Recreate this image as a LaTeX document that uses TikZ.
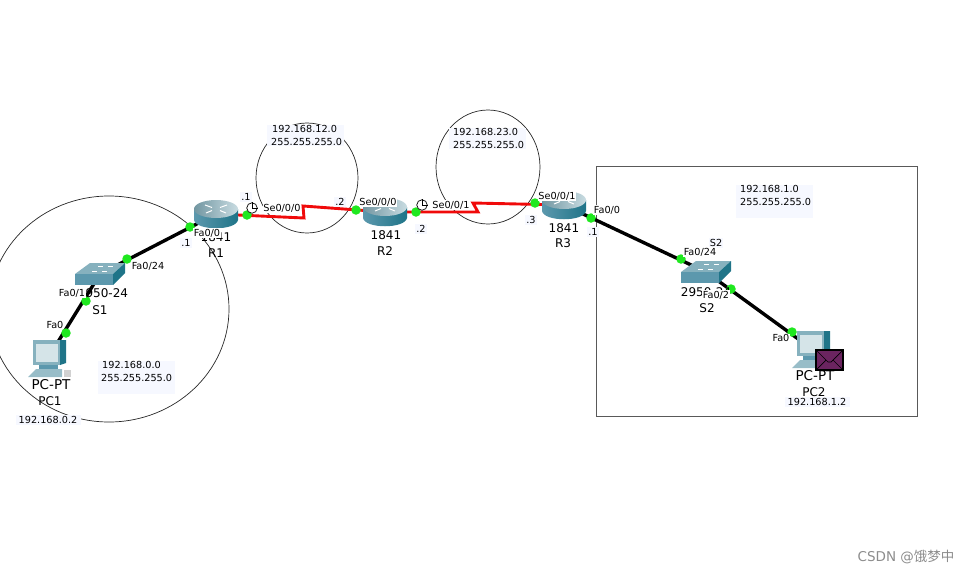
\documentclass[tikz,border=0pt]{standalone}
\usepackage{fontspec}
\setmainfont{DejaVu Sans}
\newfontfamily\cjkfont{Noto Sans CJK SC}
\usepackage{xcolor}
\usetikzlibrary{shapes.geometric}
\definecolor{infobg}{HTML}{F6F8FF}
\definecolor{portgreen}{HTML}{1FE81F}
\definecolor{linkred}{HTML}{F00A0A}
\definecolor{tealtop}{HTML}{86B1BE}
\definecolor{tealfront}{HTML}{5C98AD}
\definecolor{tealside}{HTML}{1F7488}
\definecolor{mailpurple}{HTML}{6B2460}
\begin{document}
\begin{tikzpicture}[
  x=1pt, y=-1pt,
  port/.style={circle, fill=portgreen, inner sep=0pt, minimum size=9.5pt},
  ethlink/.style={line width=3.4pt, black},
  serlink/.style={line width=2.9pt, linkred},
  netcirc/.style={ellipse, draw=black!85, line width=0.7pt, inner sep=0pt},
  lanbox/.style={rectangle, draw=black!65, line width=1pt, inner sep=0pt},
  info/.style={fill=infobg, inner sep=0pt, anchor=north west, text width=#1, align=left,
    font=\fontsize{9.7}{13}\selectfont},
  ifname/.style={fill=white, inner sep=0.6pt, font=\fontsize{9.7}{11}\selectfont},
  addr/.style={fill=infobg, inner sep=1pt, font=\fontsize{9.7}{11}\selectfont},
  devname/.style={font=\fontsize{12}{14}\selectfont},
  pctype/.style={font=\fontsize{13.5}{14}\selectfont},
  clockface/.style={circle, draw=black, fill=white, line width=0.7pt, inner sep=0pt, minimum size=10.5pt},
  routericon/.pic={
    \shade[left color=tealfront, middle color=white!85!tealtop, right color=tealside]
      (-22,-5) -- (-22,6) .. controls (-20,17) and (20,17) .. (22,6) -- (22,-5) -- cycle;
    \shade[left color=tealtop!85!black, right color=tealtop!45!white] (0,-5) ellipse (22 and 9);
    \draw[white, line width=1pt] (-11,-9) -- (-4,-6.5) (11,-9) -- (4,-6.5) (-10,-1) -- (-4,-3.5) (10,-1) -- (4,-3.5);
  },
  switchicon/.pic={
    \fill[tealtop] (-25,0) -- (-10,-11) -- (25,-11) -- (13,0) -- cycle;
    \fill[tealfront] (-25,0) rectangle (13,11);
    \fill[tealside] (13,0) -- (25,-11) -- (25,-1) -- (13,11) -- cycle;
    \draw[white, line width=0.8pt] (-8,-3) -- (-3,-3) (2,-3) -- (7,-3) (-2,-8) -- (3,-8) (8,-8) -- (13,-8);
  },
  pcicon/.pic={
    \fill[tealside] (12,-18) -- (18,-18) -- (18,5) -- (12,7) -- cycle;
    \fill[tealtop] (-15,-18) rectangle (12,7);
    \fill[tealtop!35!white] (-12,-14) rectangle (10,4);
    \fill[tealfront] (-9,7) rectangle (10,11);
    \fill[tealtop!85!white] (-12,11) -- (14,11) -- (14,19) -- (-20,19) -- cycle;
    \fill[black!18] (16,12) rectangle (23,19);
  },
  mailicon/.pic={
    \draw[fill=mailpurple, line width=1.4pt] (0,0) rectangle (27,20);
    \draw[black, line width=0.7pt] (0,0) -- (12,12) -- (15,12) -- (27,0) (0,20) -- (10,10) (27,20) -- (17,10);
  }
]
\clip (0,0) rectangle (970,573);

% --- Device centres ---
\coordinate (r1) at (216,214);
\coordinate (r2) at (385,212);
\coordinate (r3) at (564,205);
\coordinate (s1) at (100,274);
\coordinate (s2) at (706,272);
\coordinate (pc1) at (48,358);
\coordinate (pc2) at (812,349);

% --- Networks ---
\node[netcirc, minimum width=240pt, minimum height=226pt] (net0) at (109,309) {};
\node[netcirc, minimum width=102pt, minimum height=110pt] (net12) at (307,178) {};
\node[netcirc, minimum width=104pt, minimum height=114pt] (net23) at (488,167) {};
\node[lanbox, minimum width=321pt, minimum height=250pt] (net1) at (756.5,291) {};

% --- Links ---
\coordinate (za) at (304,218);
\coordinate (zb) at (303,206);
\coordinate (zc) at (478,212);
\coordinate (zd) at (473,203);
\draw[ethlink] (r1) -- (s1);
\draw[ethlink] (s1) -- (pc1);
\draw[ethlink] (r3) -- (s2);
\draw[ethlink] (s2) -- (pc2);
\draw[serlink] (r1) -- (za) -- (zb) -- (r2);
\draw[serlink] (r2) -- (zc) -- (zd) -- (r3);

% --- Devices ---
\pic at (r1) {routericon};
\pic at (r2) {routericon};
\pic at (r3) {routericon};
\pic at (s1) {switchicon};
\pic at (s2) {switchicon};
\pic at (pc1) {pcicon};
\pic at (pc2) {pcicon};

% --- Ports ---
\node[port] (r1w) at (190,227) {};
\node[port] (r1e) at (247,215) {};
\node[port] (r2w) at (356,210) {};
\node[port] (r2e) at (416,212) {};
\node[port] (r3w) at (535,203) {};
\node[port] (r3e) at (591,218) {};
\node[port] (s1n) at (127,259) {};
\node[port] (s1s) at (86,301) {};
\node[port] (pc1p) at (66,333) {};
\node[port] (s2w) at (681,259) {};
\node[port] (s2e) at (731,289) {};
\node[port] (pc2p) at (792,332) {};

% --- Device names ---
\node[devname] (t1841a) at (216,237) {1841};
\node[devname] (nr1) at (216,253) {R1};
\node[devname] (t1841b) at (386,235) {1841};
\node[devname] (nr2) at (385,251) {R2};
\node[devname] (t1841c) at (564,228) {1841};
\node[devname] (nr3) at (563,243) {R3};
\node[devname] (t2950a) at (103,293) {2950-24};
\node[devname] (ns1) at (100,310) {S1};
\node[devname] (t2950b) at (706,292) {2950-24};
\node[devname] (ns2) at (707,308) {S2};
\node[pctype] (tpca) at (51,385) {PC-PT};
\node[devname] (npc1) at (50,401) {PC1};
\node[pctype] (tpcb) at (815,376) {PC-PT};
\node[devname] (npc2) at (814,392) {PC2};
\node[addr] (s2tag) at (716,243) {S2};

% --- Interface labels ---
\node[ifname] (lr1w) at (207,233) {Fa0/0};
\node[ifname] (lr1e) at (282,208) {Se0/0/0};
\node[ifname] (lr2w) at (378,202) {Se0/0/0};
\node[ifname] (lr2e) at (451,205) {Se0/0/1};
\node[ifname] (lr3w) at (557,196) {Se0/0/1};
\node[ifname] (lr3e) at (607,210) {Fa0/0};
\node[ifname] (ls1n) at (148,266) {Fa0/24};
\node[ifname] (ls1s) at (72,293) {Fa0/1};
\node[ifname] (lpc1) at (55,325) {Fa0};
\node[ifname] (ls2w) at (700,252) {Fa0/24};
\node[ifname] (ls2e) at (716,295) {Fa0/2};
\node[ifname] (lpc2) at (781,338) {Fa0};

% --- Addresses ---
\node[addr] (a1) at (186,243) {.1};
\node[addr] (a2) at (246,197) {.1};
\node[addr] (a3) at (340,202) {.2};
\node[addr] (a4) at (421,229) {.2};
\node[addr] (a5) at (531,220) {.3};
\node[addr] (a6) at (593,232) {.1};
\node[addr, minimum width=65pt] (hpc1) at (48,420) {192.168.0.2};
\node[addr, minimum width=65pt] (hpc2) at (817,402) {192.168.1.2};

\node[info=77pt] (i0) at (98,361) {\hspace*{4pt}192.168.0.0\\\hspace*{3pt}255.255.255.0\\\mbox{}};
\node[info=77pt] (i12) at (267,125) {\hspace*{5pt}192.168.12.0\\\hspace*{4pt}255.255.255.0};
\node[info=77pt] (i23) at (449,128) {\hspace*{4pt}192.168.23.0\\\hspace*{4pt}255.255.255.0};
\node[info=77pt] (i1) at (736,185) {\hspace*{4pt}192.168.1.0\\\hspace*{4pt}255.255.255.0\\\mbox{}};

% --- Clocks ---
\node[clockface] (clk1) at (252,208) {};
\draw (clk1.center) -- (clk1.north) (clk1.center) -- (clk1.east);
\node[clockface] (clk2) at (422,205) {};
\draw (clk2.center) -- (clk2.north) (clk2.center) -- (clk2.east);

\pic at (816,350) {mailicon};

\node[text=black!45, font=\fontsize{13.5}{15}\selectfont] (mark) at (906,557) {CSDN @{\cjkfont 饿梦中}};
\end{tikzpicture}
\end{document}
